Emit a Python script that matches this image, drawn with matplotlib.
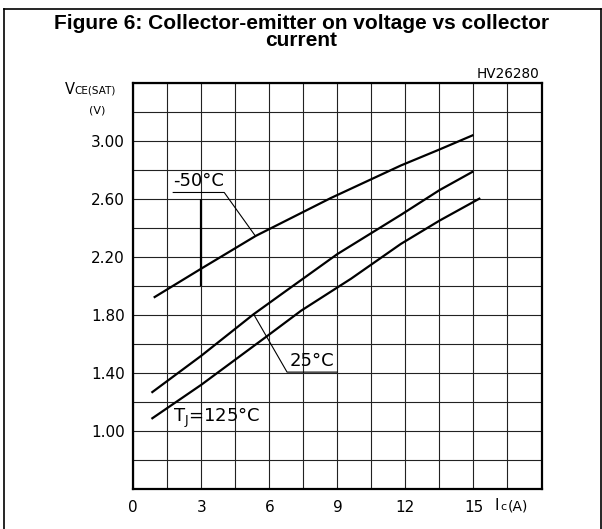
import matplotlib
matplotlib.use("Agg")
import matplotlib.pyplot as plt
import numpy as np

# ---- data ----
ic_m50 = [0.9, 3.0, 5.4, 8.7, 11.8, 13.5, 15.0]
vce_m50 = [1.92, 2.12, 2.345, 2.605, 2.83, 2.94, 3.04]

ic_25 = [0.8, 3.0, 5.3, 6.5, 9.0, 11.8, 13.5, 15.0]
vce_25 = [1.265, 1.52, 1.805, 1.94, 2.22, 2.49, 2.66, 2.79]

ic_125 = [0.8, 3.0, 5.9, 7.4, 9.6, 11.8, 13.5, 15.3]
vce_125 = [1.085, 1.32, 1.655, 1.83, 2.05, 2.29, 2.45, 2.605]

x_ticks = [0, 3, 6, 9, 12, 15]
y_ticks = [1.00, 1.40, 1.80, 2.20, 2.60, 3.00]
x_range = (0, 18)
y_range = (0.6, 3.4)

W, H = 602, 529
fig = plt.figure(figsize=(W / 100, H / 100), dpi=100)

def fx(px):
    return px / W

def fy(py):
    return 1 - py / H

left, right, top, bottom = 133.3, 541.5, 82.7, 489.3
ax = fig.add_axes([fx(left), fy(bottom), fx(right - left), (bottom - top) / H])
ax.set_xlim(*x_range)
ax.set_ylim(*y_range)

# grid
xg = np.arange(x_range[0], x_range[1] + 0.01, 1.5)
yg = np.arange(y_range[0], y_range[1] + 0.01, 0.2)
ax.set_xticks(xg)
ax.set_yticks(yg)
ax.set_xticklabels([("%d" % v) if (abs(v - round(v)) < 1e-6 and int(round(v)) in x_ticks) else "" for v in xg])
ax.set_yticklabels([("%.2f" % v) if any(abs(v - t) < 1e-6 for t in y_ticks) else "" for v in yg])
ax.grid(True, color="#222222", lw=0.8)
ax.tick_params(length=0, labelsize=11, colors="black")
ax.tick_params(axis="x", pad=8)
ax.tick_params(axis="y", pad=6)
for s in ax.spines.values():
    s.set_linewidth(1.6)
    s.set_color("black")
ax.set_axisbelow(True)

lw = 1.6
ax.plot(ic_m50, vce_m50, color="black", lw=lw, solid_capstyle="butt")
ax.plot(ic_25, vce_25, color="black", lw=lw, solid_capstyle="butt")
ax.plot(ic_125, vce_125, color="black", lw=lw, solid_capstyle="butt")

# marker line at 3 A
ax.plot([3, 3], [2.0, 2.6], color="black", lw=lw, solid_capstyle="butt")

# curve labels with underline + leader
lab_fs = 13
ax.text(2.88, 2.66, "-50°C", fontsize=lab_fs, ha="center", va="bottom", family="DejaVu Sans")
ax.plot([1.76, 4.01, 5.38], [2.644, 2.644, 2.345], color="black", lw=0.8)

ax.text(7.88, 1.42, "25°C", fontsize=lab_fs, ha="center", va="bottom", family="DejaVu Sans")
ax.plot([8.99, 6.78, 5.31], [1.407, 1.407, 1.805], color="black", lw=0.8)

ax.text(3.66, 1.092, r"T$_\mathregular{J}$=125°C", fontsize=lab_fs, ha="center", va="center",
        family="DejaVu Sans")

# axis labels
fig.text(fx(65), fy(93.5), "V", fontsize=10.5, ha="left", va="baseline")
fig.text(fx(74.5), fy(93.5), "CE(SAT)", fontsize=7.5, ha="left", va="baseline")
fig.text(fx(97.5), fy(113.5), "(V)", fontsize=8, ha="center", va="baseline")

fig.text(fx(495), fy(510), "I", fontsize=11, ha="left", va="baseline")
fig.text(fx(500.5), fy(510), "c", fontsize=8, ha="left", va="baseline")
fig.text(fx(508), fy(510), "(A)", fontsize=10, ha="left", va="baseline")

# code
fig.text(fx(539.5), fy(78), "HV26280", fontsize=9.8, ha="right", va="baseline")

# title (single two-line text)
fig.text(fx(301.5), fy(14), "Figure 6: Collector-emitter on voltage vs collector\ncurrent",
         fontsize=15, fontweight="bold", family="Liberation Sans", ha="center", va="top",
         multialignment="center", linespacing=0.9)

# outer frame
fig.add_artist(plt.Line2D([fx(3.5), fx(3.5)], [fy(9.3), 0], transform=fig.transFigure, color="black", lw=1.2))
fig.add_artist(plt.Line2D([fx(3.5), fx(600.5)], [fy(9.3), fy(9.3)], transform=fig.transFigure, color="black", lw=1.2))
fig.add_artist(plt.Line2D([fx(600.5), fx(600.5)], [fy(9.3), 0], transform=fig.transFigure, color="black", lw=1.2))

fig.savefig("out.png", dpi=100)
